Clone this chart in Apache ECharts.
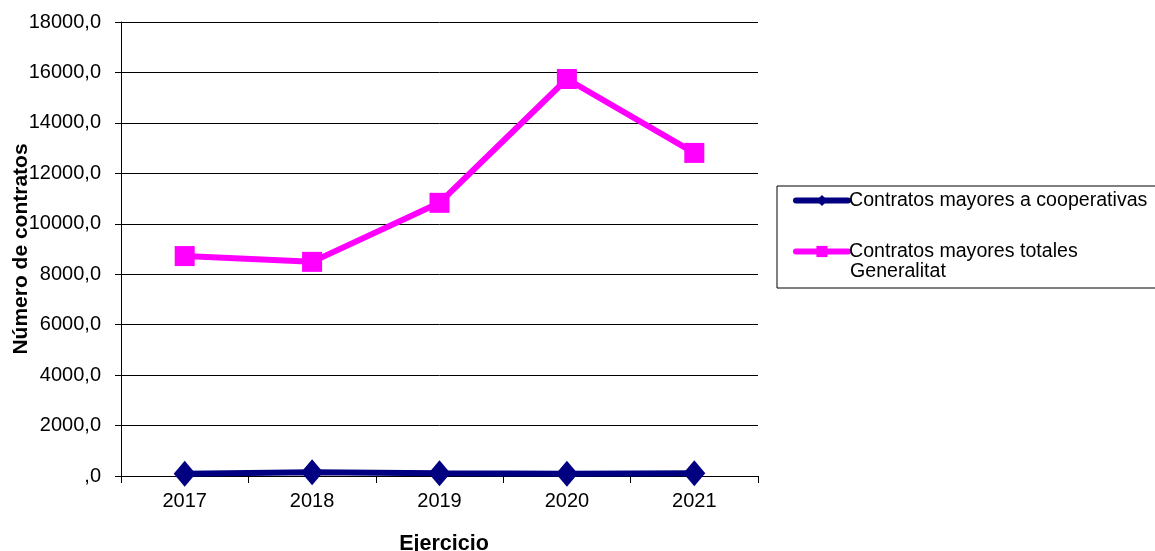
<!DOCTYPE html>
<html><head><meta charset="utf-8">
<script src="https://cdn.jsdelivr.net/npm/echarts@6/dist/echarts.min.js"></script>
<style>html,body{margin:0;padding:0;background:#fff;overflow:hidden}#c{width:1155px;height:551px}</style>
</head><body><div id="c"></div>
<script>
const categories = ['2017','2018','2019','2020','2021'];
const cooperativas = [90, 150, 110, 90, 110];
const totales = [8720, 8490, 10830, 15740, 12810];
const seriesNames = ['Contratos mayores a cooperativas', 'Contratos mayores totales Generalitat'];
const legendLabels = ['Contratos mayores a cooperativas', 'Contratos mayores totales'];
const legendExtraLine = 'Generalitat';

const chart = echarts.init(document.getElementById('c'));
const font = 'Liberation Sans, Arial, sans-serif';
chart.setOption({
  animation: false,
  backgroundColor: '#fff',
  textStyle: {fontFamily: font},
  grid: {left: 121, right: 397, top: 22, bottom: 75, containLabel: false, outerBoundsMode: 'none'},
  legend: {
    orient: 'vertical',
    left: 777, top: 186,
    padding: [3, 40, 25, 16],
    borderColor: '#000', borderWidth: 1,
    itemWidth: 52, itemHeight: 14, itemGap: 28,
    lineStyle: {width: 6, cap: 'round'},
    textStyle: {fontFamily: font, fontSize: 19.6, color: '#000', padding: [0,0,0,-4], lineHeight: 23},
    formatter: name => legendLabels[seriesNames.indexOf(name)],
    data: seriesNames
  },
  graphic: [{
    type: 'text', left: 850, top: 262,
    style: {text: legendExtraLine, font: '19.6px ' + font, fill: '#000'}
  }],
  xAxis: {
    type: 'category', data: categories, boundaryGap: true,
    name: 'Ejercicio', nameLocation: 'middle', nameGap: 57, nameMoveOverlap: false,
    nameTextStyle: {fontFamily: font, fontSize: 21.5, fontWeight: 'bold', color: '#000', padding: [0,0,0,9]},
    axisLine: {lineStyle: {color: '#000', width: 1}},
    axisTick: {show: true, alignWithLabel: false, length: 7, lineStyle: {color: '#000'}},
    axisLabel: {fontFamily: font, fontSize: 20, color: '#000', margin: 15}
  },
  yAxis: {
    type: 'value', min: 0, max: 18000, interval: 2000,
    name: 'Número de contratos', nameLocation: 'middle', nameGap: 89, nameRotate: 90, nameMoveOverlap: false,
    nameTextStyle: {fontFamily: font, fontSize: 21, fontWeight: 'bold', color: '#000'},
    axisLine: {show: true, lineStyle: {color: '#000', width: 1}},
    axisTick: {show: true, length: 6, lineStyle: {color: '#000'}},
    axisLabel: {fontFamily: font, fontSize: 20, color: '#000', margin: 20,
      formatter: v => (v === 0 ? '' : String(v)) + ',0'},
    splitLine: {show: true, lineStyle: {color: '#000', width: 1}}
  },
  series: [
    {name: seriesNames[0], type: 'line', data: cooperativas,
     symbol: 'diamond', symbolSize: [22, 26],
     lineStyle: {color: '#000080', width: 6}, itemStyle: {color: '#000080'}},
    {name: seriesNames[1], type: 'line', data: totales,
     symbol: 'rect', symbolSize: 20,
     lineStyle: {color: '#FF00FF', width: 6}, itemStyle: {color: '#FF00FF'}}
  ]
});
</script></body></html>
